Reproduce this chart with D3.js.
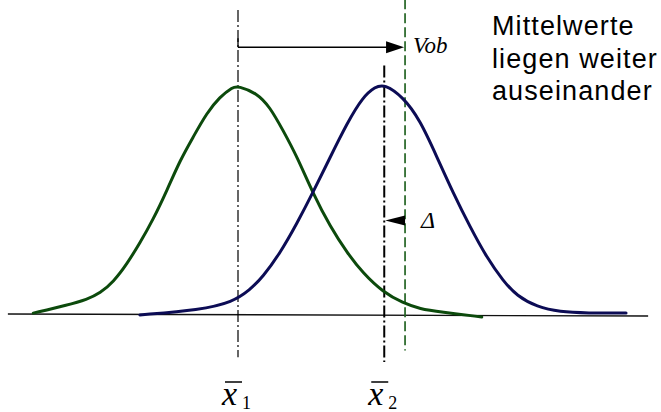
<!DOCTYPE html>
<html>
<head>
<meta charset="utf-8">
<script src="https://cdn.jsdelivr.net/npm/d3@7/dist/d3.min.js"></script>
<style>
  html, body { margin: 0; padding: 0; background: #fff; }
  svg { display: block; }
</style>
</head>
<body>
<svg id="chart" width="661" height="412"></svg>
<script>
// Sample 1 (green) and sample 2 (navy): x in standard deviations from mean 1,
// y as density relative to the peak of sample 1.
const sample1X = [-3.15, -2.63, -2.32, -2.12, -1.92, -1.71, -1.51, -1.31, -1.09, -0.89, -0.69, -0.48, -0.28, -0.08, 0,
                  0.29, 0.49, 0.69, 0.91, 1.15, 1.42, 1.68, 1.92, 2.23, 2.54, 2.80, 3.11, 3.75];
const sample1Y = [0.004, 0.039, 0.064, 0.092, 0.140, 0.219, 0.311, 0.412, 0.544, 0.675, 0.776, 0.882, 0.952, 0.996, 1,
                  0.969, 0.908, 0.807, 0.689, 0.531, 0.382, 0.268, 0.180, 0.096, 0.048, 0.022, 0.009, -0.013];

const sample2X = [-1.51, -0.58, -0.08, 0.18, 0.38, 0.65, 0.91, 1.15, 1.42, 1.68, 1.92, 2.11, 2.25,
                  2.54, 2.80, 3.06, 3.31, 3.57, 3.83, 4.08, 4.29, 4.60, 4.95, 5.37, 5.97];
const sample2Y = [-0.004, 0.018, 0.053, 0.105, 0.162, 0.268, 0.399, 0.531, 0.689, 0.838, 0.952, 0.996, 1.009,
                  0.952, 0.851, 0.689, 0.531, 0.382, 0.246, 0.145, 0.079, 0.031, 0.009, 0.004, 0.004];

// Means, the limit value Vob, and the x axis extent
const mean1 = 0;
const mean2 = 2.25;
const vob = 2.57;
const axisX = [-3.54, 6.31];
const axisY = [0, -0.009];

// Annotation texts
const meanLabels = ["1", "2"];
const noteLines = ["Mittelwerte", "liegen weiter", "auseinander"];
const vobLabel = "Vob";
const deltaLabel = "\u0394";

const serif = "'Liberation Serif', 'Times New Roman', Times, serif";

const svg = d3.select("#chart");

const x = d3.scaleLinear().domain([0, 1]).range([238, 303]);
const y = d3.scaleLinear().domain([0, 1]).range([314, 86]);

const line = d3.line()
  .x(d => x(d[0]))
  .y(d => y(d[1]))
  .curve(d3.curveBasis);

// x axis
svg.append("line")
  .attr("x1", x(axisX[0])).attr("y1", y(axisY[0]))
  .attr("x2", x(axisX[1])).attr("y2", y(axisY[1]))
  .attr("stroke", "#111").attr("stroke-width", 1.4);

// Mean lines (dash-dot) and the Vob limit (dashed)
svg.append("line")
  .attr("x1", x(mean1)).attr("x2", x(mean1))
  .attr("y1", y(1.333)).attr("y2", y(-0.19))
  .attr("stroke", "#000").attr("stroke-width", 1.2)
  .attr("stroke-dasharray", "12,3,2,3");

svg.append("line")
  .attr("x1", x(mean2)).attr("x2", x(mean2))
  .attr("y1", y(1.09)).attr("y2", y(-0.21))
  .attr("stroke", "#000").attr("stroke-width", 2)
  .attr("stroke-dasharray", "12,3,2,3");

svg.append("line")
  .attr("x1", x(vob)).attr("x2", x(vob))
  .attr("y1", y(1.38)).attr("y2", y(-0.16))
  .attr("stroke", "#246424").attr("stroke-width", 1.7)
  .attr("stroke-dasharray", "10,4");

// Distribution curves
svg.append("path")
  .datum(d3.zip(sample1X, sample1Y))
  .attr("d", line)
  .attr("fill", "none")
  .attr("stroke", "#0c4a0c").attr("stroke-width", 3)
  .attr("stroke-linecap", "round");

svg.append("path")
  .datum(d3.zip(sample2X, sample2Y))
  .attr("d", line)
  .attr("fill", "none")
  .attr("stroke", "#0c0c55").attr("stroke-width", 3)
  .attr("stroke-linecap", "round");

// Arrow from mean 1 to Vob
const vobLevel = 1.17;
svg.append("line")
  .attr("x1", x(mean1)).attr("x2", x(vob) - 18)
  .attr("y1", y(vobLevel)).attr("y2", y(vobLevel))
  .attr("stroke", "#000").attr("stroke-width", 1.3);
svg.append("line")
  .attr("x1", x(mean1)).attr("x2", x(mean1))
  .attr("y1", y(vobLevel) - 9).attr("y2", y(vobLevel))
  .attr("stroke", "#000").attr("stroke-width", 1.3);
svg.append("path")
  .attr("d", d3.line()([[x(vob) - 19, y(vobLevel) - 6], [x(vob) - 1, y(vobLevel)], [x(vob) - 19, y(vobLevel) + 6]]) + "Z")
  .attr("fill", "#000");
svg.append("text")
  .attr("x", x(vob) + 8).attr("y", y(vobLevel) + 6)
  .attr("font-family", serif)
  .attr("font-style", "italic").attr("font-size", 23)
  .text(vobLabel);

// Delta arrowhead between Vob and mean 2
const deltaLevel = 0.41;
svg.append("path")
  .attr("d", d3.line()([[x(vob), y(deltaLevel) - 5], [x(mean2) + 1, y(deltaLevel)], [x(vob), y(deltaLevel) + 5]]) + "Z")
  .attr("fill", "#000");
svg.append("text")
  .attr("x", x(vob) + 16).attr("y", y(deltaLevel) + 7)
  .attr("font-family", serif)
  .attr("font-style", "italic").attr("font-size", 24)
  .text(deltaLabel);

// Mean labels x̄1, x̄2
[mean1, mean2].forEach((m, i) => {
  const cx = x(m);
  const g = svg.append("g");
  g.append("text")
    .attr("x", cx - 16).attr("y", 405)
    .attr("font-family", serif)
    .attr("font-style", "italic").attr("font-size", 34)
    .text("x");
  g.append("line")
    .attr("x1", cx - 13).attr("x2", cx + 4)
    .attr("y1", 382).attr("y2", 382)
    .attr("stroke", "#000").attr("stroke-width", 1.5);
  g.append("text")
    .attr("x", cx + 4).attr("y", 409)
    .attr("font-family", serif)
    .attr("font-size", 18)
    .text(meanLabels[i]);
});

// Note text
svg.append("text")
  .attr("font-family", "'Liberation Sans', Arial, sans-serif")
  .attr("font-size", 27)
  .attr("letter-spacing", 1.1)
  .attr("fill", "#000")
  .selectAll("tspan")
  .data(noteLines)
  .join("tspan")
  .attr("x", 492)
  .attr("y", (d, i) => 35 + i * 32.5)
  .text(d => d);
</script>
</body>
</html>
